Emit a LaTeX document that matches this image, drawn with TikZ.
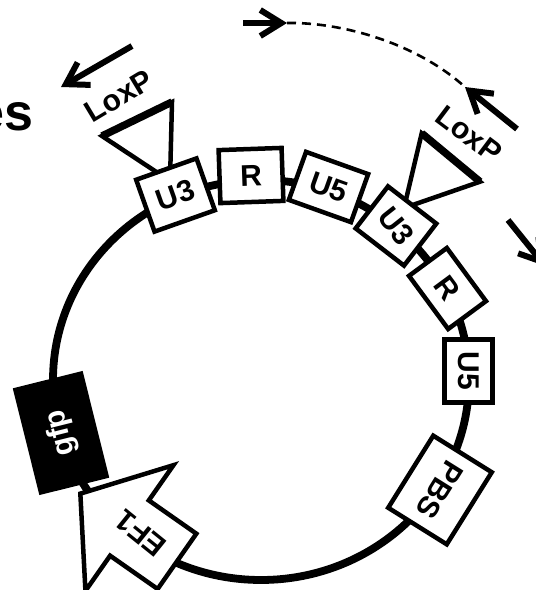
\documentclass[tikz,border=0pt]{standalone}
\usepackage{fontspec}
\setmainfont{Liberation Sans}
\usepackage{tikz}
\usetikzlibrary{arrows.meta, shapes.arrows}

\begin{document}
\begin{tikzpicture}[
    x=1pt, y=-1pt,
    >={Straight Barb[length=21pt, width=26pt]},
    seg/.style 2 args={draw, line width=4.5pt, fill=white, minimum width=#1, minimum height=#2, inner sep=0pt, font=\fontsize{30}{30}\selectfont\bfseries},
    loxp/.style={draw, line width=4.5pt, fill=white},
    lbl/.style={font=\fontsize{30}{30}\selectfont\bfseries, inner sep=0pt},
    hop/.style={line width=6pt, ->},
]
    \clip (0,0) rectangle (536,590);

    % backbone
    \coordinate (ori) at (261,380);
    \draw[line width=7.8pt] (ori) ellipse [x radius=208pt, y radius=200pt];

    % LoxP sites
    \coordinate (lxa) at (102,136);
    \coordinate (lxb) at (172,102);
    \coordinate (lxc) at (170,181);
    \draw[loxp] (lxa) -- (lxb) -- (lxc) -- cycle;
    \draw[line width=7.5pt] (lxa) -- (lxb);
    \coordinate (rxa) at (421.7,133.3);
    \coordinate (rxb) at (480,181.7);
    \coordinate (rxc) at (404,208);
    \draw[loxp] (rxa) -- (rxb) -- (rxc) -- cycle;
    \draw[line width=7.5pt] (rxa) -- (rxb);
    \node[lbl, rotate=31] (lxl) at (119,96) {LoxP};
    \node[lbl, rotate=-37] (rxl) at (469,134) {LoxP};

    % LTRs
    \node[seg={64}{55}, rotate=19.5] (u3a) at (175.5,195) {U3};
    \node[seg={63}{53}, rotate=2] (ra) at (251,175.5) {R};
    \node[seg={66}{51}, rotate=-19.7] (u5a) at (328.5,187) {U5};
    \node[seg={61}{53}, rotate=-37.6] (u3b) at (396,226) {\rotatebox{-14}{U3}};
    \node[seg={66}{47}, rotate=-53.6] (rb) at (447.5,288.5) {R};
    \node[seg={63}{48}, rotate=-90] (u5b) at (468.5,371) {U5};
    \node[seg={85}{69}, rotate=-122] (pbs) at (440,490) {PBS};

    % reporter
    \node[seg={110}{72}, fill=black, text=white, draw=none, rotate=104] (gfp) at (61,433) {gfp};
    \node[single arrow, draw, line width=4.5pt, fill=white, font=\fontsize{30}{30}\selectfont\bfseries,
          rotate=145, single arrow tip angle=104, single arrow head extend=43pt, minimum height=118pt,
          inner xsep=2pt, inner ysep=21pt, text height=21pt, text depth=0pt, anchor=tip] (ef1) at (78,492) {\rotatebox{-4}{EF1}};

    \node[font=\fontsize{52}{52}\selectfont\bfseries, anchor=base east, inner sep=0pt] (es) at (34,130) {es};

    % excision
    \coordinate (topA) at (243,23);
    \coordinate (topB) at (287,23);
    \coordinate (rlA) at (517,129);
    \coordinate (rlB) at (465,87);
    \coordinate (lfA) at (132,46);
    \coordinate (lfB) at (61,87);
    \coordinate (rgA) at (508,220);
    \coordinate (rgB) at (545,266);
    \draw[line width=2.6pt, dash pattern=on 9pt off 6pt] (topB) .. controls (340,22) and (415,42) .. (rlB);
    \draw[hop] (topA) -- (topB);
    \draw[hop] (rlA) -- (rlB);
    \draw[hop] (lfA) -- (lfB);
    \draw[hop] (rgA) -- (rgB);
\end{tikzpicture}
\end{document}
